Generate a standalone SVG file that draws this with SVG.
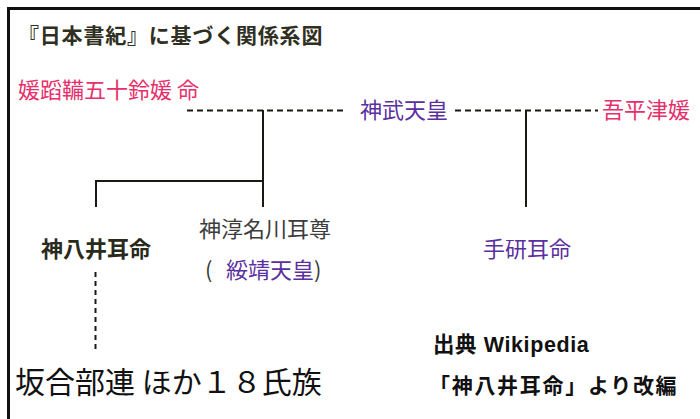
<svg xmlns="http://www.w3.org/2000/svg" width="700" height="419" viewBox="0 0 700 419">
<style>
text{font-family:"Noto Sans CJK JP","Noto Sans",sans-serif;}
.pink{fill:#e6306c;font-size:22px;}
.purple{fill:#5a2fa0;font-size:22px;}
.gray{fill:#3c3c3c;font-size:22px;}
.solid{stroke:#1a1a14;stroke-width:2;fill:none;}
.dash{stroke:#1a1a14;stroke-width:2;fill:none;stroke-dasharray:6 4;}
.vdash{stroke:#1a1a14;stroke-width:2;fill:none;stroke-dasharray:5 4;}
</style>
<rect x="0" y="0" width="700" height="419" fill="#ffffff"/>
<rect x="8.5" y="8.5" width="700" height="420" fill="none" stroke="#111" stroke-width="3"/>
<text id="title" x="18" y="43" font-size="21" font-weight="bold" fill="#2f2f22" letter-spacing="0.8">『日本書紀』に基づく関係系図</text>
<g id="connectors">
<line class="dash" x1="187" y1="110.5" x2="343" y2="110.5"/>
<line class="dash" x1="455" y1="110.5" x2="598" y2="110.5"/>
<line class="solid" x1="263" y1="110" x2="263" y2="207"/>
<polyline class="solid" points="96,207 96,181 263,181"/>
<line class="solid" x1="526" y1="110" x2="526" y2="207"/>
<line class="vdash" x1="95.5" y1="272" x2="95.5" y2="350"/>
</g>
<g id="n-himetatara"><text class="pink" x="18" y="98">媛蹈鞴五十鈴媛 命</text></g>
<g id="n-jimmu"><text class="purple" x="360" y="118">神武天皇</text></g>
<g id="n-ahiratsu"><text class="pink" x="602" y="118">吾平津媛</text></g>
<g id="n-kamununakawa"><text class="gray" x="199" y="237">神淳名川耳尊</text>
<text class="gray" x="205" y="278">(<tspan class="purple" x="226">綏靖天皇</tspan><tspan x="314">)</tspan></text></g>
<g id="n-kamuyai"><text x="41" y="257" font-size="22" font-weight="bold" fill="#2a2a1c">神八井耳命</text></g>
<g id="n-tagishimimi"><text class="purple" x="483" y="257">手研耳命</text></g>
<g id="n-sakaibe"><text x="15" y="393" font-size="30" fill="#111">坂合部連 ほか１８氏族</text></g>
<g id="source">
<text x="433" y="352" font-size="21.5" font-weight="bold" fill="#111" letter-spacing="0.6" style="font-family:'Liberation Sans','Noto Sans CJK JP',sans-serif">出典 Wikipedia</text>
<text x="429" y="393" font-size="21" font-weight="bold" fill="#111" letter-spacing="1.7">「神八井耳命」より改編</text>
</g>
</svg>
